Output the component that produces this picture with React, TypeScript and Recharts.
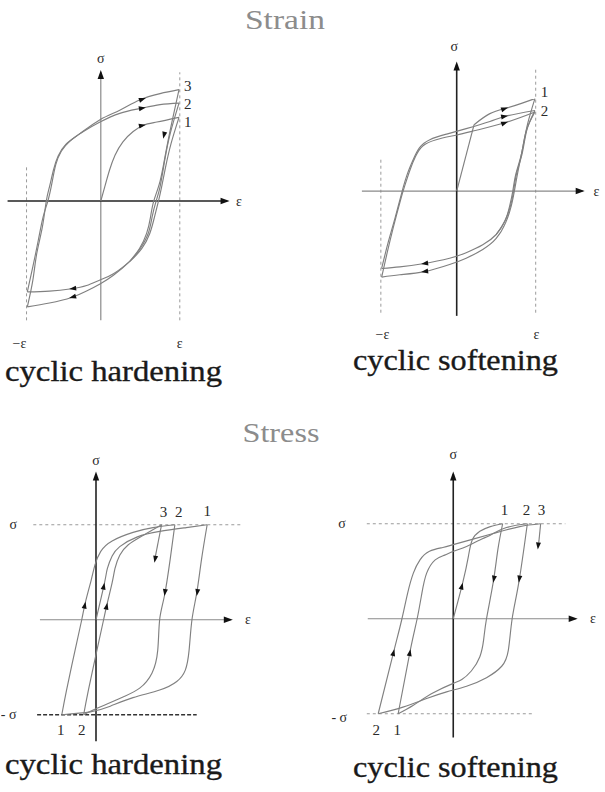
import { ComposedChart, Line, Scatter, XAxis, YAxis } from 'recharts';

type Pt = [number, number];
type Arrow = [number, number, number, number]; // x, y, direction dx, dy
type Tag = [number, number, string];

// ---------- strain controlled, cyclic hardening ----------
const strainHardInitial: Pt[] = [[0, 0], [0.05, 0.18], [0.11, 0.39], [0.18, 0.58], [0.28, 0.75], [0.41, 0.88], [0.54, 0.96], [0.71, 1.0], [0.99, 1.06]];
const strainHardUnload1: Pt[] = [[0.99, 1.06], [0.89, 0.73], [0.82, 0.43], [0.77, 0.18], [0.73, 0], [0.68, -0.2], [0.62, -0.41], [0.52, -0.6], [0.37, -0.76], [0.16, -0.92], [-0.01, -1.0], [-0.18, -1.07], [-0.37, -1.11], [-0.65, -1.14], [-0.93, -1.15]];
const strainHardUnload2: Pt[] = [[0.99, 1.24], [0.88, 0.86], [0.81, 0.52], [0.75, 0.18], [0.7, 0], [0.65, -0.2], [0.6, -0.41], [0.5, -0.6], [0.37, -0.76], [0.16, -0.94], [-0.01, -1.05], [-0.18, -1.14], [-0.37, -1.22], [-0.65, -1.29], [-0.93, -1.34]];
const strainHardUnload3: Pt[] = [[0.99, 1.41], [0.9, 1.0], [0.82, 0.6], [0.75, 0.25], [0.67, 0], [0.63, -0.2], [0.58, -0.41], [0.49, -0.6], [0.37, -0.76]];
const strainHardReload1: Pt[] = [[-0.93, -1.15], [-0.86, -0.83], [-0.79, -0.49], [-0.73, -0.2], [-0.67, 0], [-0.62, 0.22], [-0.57, 0.46], [-0.5, 0.63], [-0.39, 0.76], [-0.22, 0.88], [-0.01, 1.0], [0.24, 1.11], [0.49, 1.17], [0.75, 1.22], [0.99, 1.24]];
const strainHardReload2: Pt[] = [[-0.93, -1.34], [-0.86, -1.0], [-0.81, -0.66], [-0.74, -0.33], [-0.69, 0], [-0.65, 0.18], [-0.6, 0.39], [-0.54, 0.57], [-0.44, 0.72], [-0.27, 0.85], [-0.01, 1.03], [0.24, 1.15], [0.49, 1.28], [0.75, 1.36], [0.99, 1.41]];
const strainHardArrows: Arrow[] = [[0.57, 1.305, 1, 0.35], [0.57, 1.185, 1, 0.2], [0.57, 0.967, 1, 0.22], [0.79, 0.79, -0.23, -1], [-0.4, -1.113, -1, -0.12], [-0.4, -1.228, -1, -0.3]];
const strainHardNumbers: Tag[] = [[1.1, 1.46, '3'], [1.1, 1.23, '2'], [1.1, 1.0, '1']];
const strainHardSymbols: Tag[] = [[0, 1.81, 'σ'], [1.75, 0, 'ε'], [-1.03, -1.8, '−ε'], [1.0, -1.8, 'ε']];

// ---------- strain controlled, cyclic softening ----------
const strainSoftRise: Pt[] = [[0, 0], [0.22, 0.84]];
const strainSoftTop1: Pt[] = [[0.22, 0.84], [0.42, 0.98], [0.63, 1.05], [0.82, 1.11], [0.99, 1.17]];
const strainSoftReloadA: Pt[] = [[-0.95, -0.98], [-0.87, -0.66], [-0.78, -0.34], [-0.69, 0], [-0.62, 0.23], [-0.55, 0.4], [-0.47, 0.55], [-0.34, 0.65], [-0.13, 0.72], [0.12, 0.79], [0.42, 0.88], [0.63, 0.95], [0.99, 1.02]];
const strainSoftReloadB: Pt[] = [[-0.95, -1.09], [-0.88, -0.78], [-0.8, -0.45], [-0.71, -0.11], [-0.66, 0.06], [-0.59, 0.27], [-0.52, 0.44], [-0.43, 0.57], [-0.26, 0.65], [0, 0.71], [0.25, 0.77], [0.63, 0.87], [0.99, 1.0]];
const strainSoftUnload1: Pt[] = [[0.99, 1.17], [0.9, 0.86], [0.84, 0.57], [0.78, 0.27], [0.73, 0], [0.69, -0.19], [0.62, -0.4], [0.5, -0.6], [0.33, -0.74], [0.12, -0.85], [-0.09, -0.93], [-0.41, -1.02], [-0.72, -1.06], [-0.95, -1.09]];
const strainSoftUnload2: Pt[] = [[0.99, 1.02], [0.89, 0.78], [0.83, 0.48], [0.76, 0.23], [0.72, 0], [0.68, -0.19], [0.61, -0.38], [0.5, -0.55], [0.33, -0.68], [0.12, -0.78], [-0.09, -0.85], [-0.43, -0.92], [-0.72, -0.96], [-0.95, -0.98]];
const strainSoftUnload3: Pt[] = [[0.99, 1.0], [0.88, 0.76], [0.82, 0.47], [0.75, 0.22], [0.71, 0], [0.67, -0.19], [0.61, -0.38], [0.5, -0.55]];
const strainSoftArrows: Arrow[] = [[0.65, 1.056, 1, 0.32], [0.65, 0.954, 1, 0.2], [0.65, 0.877, 1, 0.36], [-0.45, -1.025, -1, -0.15], [-0.45, -0.923, -1, -0.15]];
const strainSoftNumbers: Tag[] = [[1.11, 1.25, '1'], [1.11, 1.01, '2']];
const strainSoftSymbols: Tag[] = [[-0.03, 1.83, 'σ'], [1.77, 0, 'ε'], [-0.94, -1.82, '−ε'], [1.01, -1.82, 'ε']];

// ---------- stress controlled, cyclic hardening ----------
const stressHardInitial: Pt[] = [[0, 0], [0.09, 0.39], [0.12, 0.54], [0.17, 0.67], [0.25, 0.77], [0.43, 0.87], [0.67, 0.93], [0.95, 0.97], [1.17, 1.0]];
const stressHardReload1: Pt[] = [[-0.36, -1.0], [-0.31, -0.74], [-0.22, -0.32], [-0.15, 0], [-0.11, 0.19], [-0.05, 0.42], [-0.01, 0.58], [0.05, 0.72], [0.17, 0.83], [0.39, 0.92], [0.6, 0.97], [0.83, 1.0]];
const stressHardReload2: Pt[] = [[-0.13, -1.0], [-0.08, -0.74], [0.01, -0.32], [0.08, 0], [0.12, 0.18], [0.17, 0.39], [0.2, 0.54], [0.25, 0.68], [0.34, 0.79], [0.48, 0.88], [0.69, 1.0]];
const stressHardUnload1: Pt[] = [[1.17, 1.0], [1.11, 0.63], [1.06, 0.28], [1.01, 0], [0.98, -0.32], [0.94, -0.53], [0.85, -0.65], [0.67, -0.74], [0.39, -0.82], [0.15, -0.91], [-0.06, -0.97], [-0.36, -1.0]];
const stressHardUnload2: Pt[] = [[0.83, 1.0], [0.78, 0.63], [0.72, 0.25], [0.67, 0], [0.65, -0.32], [0.59, -0.56], [0.46, -0.72], [0.29, -0.81], [0.11, -0.89], [-0.03, -0.95], [-0.13, -1.0]];
const stressHardUnload3: Pt[] = [[0.69, 1.0], [0.62, 0.64]];
const stressHardArrows: Arrow[] = [[-0.11, 0.19, 0.21, 1], [0.09, 0.39, 0.22, 1], [0.12, 0.18, 0.21, 1], [0.615, 0.6, -0.19, -1], [0.72, 0.25, -0.15, -1], [1.06, 0.25, -0.16, -1]];
const stressHardNumbers: Tag[] = [[0.71, 1.13, '3'], [0.87, 1.13, '2'], [1.17, 1.14, '1'], [-0.37, -1.16, '1'], [-0.15, -1.16, '2']];
const stressHardSymbols: Tag[] = [[0, 1.68, 'σ'], [1.6, 0, 'ε'], [-0.87, 1.0, 'σ'], [-0.92, -1.0, '- σ']];

// ---------- stress controlled, cyclic softening ----------
const stressSoftInitial: Pt[] = [[0, 0], [0.1, 0.38], [0.16, 0.66], [0.2, 0.83], [0.28, 0.92], [0.39, 0.97], [0.52, 1.0]];
const stressSoftUnload1: Pt[] = [[0.52, 1.0], [0.47, 0.73], [0.42, 0.38], [0.35, 0], [0.32, -0.22], [0.28, -0.4], [0.19, -0.55], [0.09, -0.64], [0, -0.68], [-0.21, -0.78], [-0.42, -0.91], [-0.58, -1.0]];
const stressSoftUnload2: Pt[] = [[0.78, 1.0], [0.69, 0.38], [0.62, 0], [0.58, -0.33], [0.51, -0.5], [0.35, -0.62], [0.14, -0.71], [-0.07, -0.77], [-0.28, -0.84], [-0.53, -0.93], [-0.79, -1.0]];
const stressSoftUnload3: Pt[] = [[0.92, 1.0], [0.9, 0.8]];
const stressSoftReload1: Pt[] = [[-0.58, -1.0], [-0.45, -0.32], [-0.38, 0], [-0.33, 0.27], [-0.28, 0.48], [-0.19, 0.62], [-0.09, 0.67], [0, 0.71], [0.14, 0.76], [0.28, 0.83], [0.39, 0.88], [0.56, 0.96], [0.78, 1.0]];
const stressSoftReload2: Pt[] = [[-0.79, -1.0], [-0.62, -0.32], [-0.54, 0], [-0.48, 0.27], [-0.42, 0.48], [-0.35, 0.62], [-0.25, 0.71], [-0.11, 0.75], [0, 0.78], [0.18, 0.83], [0.43, 0.9], [0.7, 0.97], [0.92, 1.0]];
const stressSoftArrows: Arrow[] = [[0.1, 0.38, 0.26, 1], [0.42, 0.38, -0.19, -1], [0.69, 0.38, -0.15, -1], [0.89, 0.73, -0.1, -1], [-0.62, -0.32, 0.25, 1], [-0.45, -0.32, 0.19, 1]];
const stressSoftNumbers: Tag[] = [[0.54, 1.15, '1'], [0.77, 1.15, '2'], [0.93, 1.15, '3'], [-0.81, -1.17, '2'], [-0.59, -1.17, '1']];
const stressSoftSymbols: Tag[] = [[0, 1.73, 'σ'], [1.47, 0, 'ε'], [-1.17, 1.0, 'σ'], [-1.2, -1.04, '- σ']];

const SERIF = '"Liberation Serif", "DejaVu Serif", serif';
const CURVE = '#808080';

const toXY = (pts: Pt[]) => pts.map(([x, y]) => ({ x, y }));
const toArrow = (a: Arrow[]) => a.map(([x, y, dx, dy]) => ({ x, y, dx, dy }));
const toTag = (t: Tag[]) => t.map(([x, y, text]) => ({ x, y, text }));

// filled arrowhead with its tip on the point, pointing along (dx, dy)
const makeHead = (len: number, half: number) => (props: any) => {
  const { cx, cy, payload } = props;
  const a = Math.atan2(-payload.dy, payload.dx);
  const ux = Math.cos(a), uy = Math.sin(a);
  const bx = cx - ux * len, by = cy - uy * len;
  const pts = `${cx},${cy} ${bx - uy * half},${by + ux * half} ${bx + uy * half},${by - ux * half}`;
  return <polygon points={pts} fill="#111" />;
};
const CurveHead = makeHead(7, 2.5);
const AxisHead = makeHead(9, 3.2);

const makeText = (size: number) => (props: any) => (
  <text x={props.cx} y={props.cy} textAnchor="middle" dominantBaseline="central"
    fontFamily={SERIF} fontSize={size} fill="#2a2a2a">{props.payload.text}</text>
);
const NumberText = makeText(15);
const SymbolText = makeText(14);

interface PanelProps {
  origin: Pt;
  scale: number;
  xDomain: Pt;
  yDomain: Pt;
  curves: Pt[][];
  straights?: Pt[][];
  darkAxis: Pt[];
  lightAxis: Pt[];
  axisEnds: Arrow[];
  dashed: Pt[][];
  darkDashed?: Pt[][];
  arrows: Arrow[];
  numbers: Tag[];
  symbols: Tag[];
}

function Panel(p: PanelProps) {
  const width = (p.xDomain[1] - p.xDomain[0]) * p.scale;
  const height = (p.yDomain[1] - p.yDomain[0]) * p.scale;
  const left = p.origin[0] + p.xDomain[0] * p.scale;
  const top = p.origin[1] - p.yDomain[1] * p.scale;
  const seg = (pts: Pt[], key: string, extra: any) => (
    <Line key={key} data={toXY(pts)} dataKey="y" dot={false} activeDot={false}
      isAnimationActive={false} legendType="none" {...extra} />
  );
  return (
    <div style={{ position: 'absolute', left, top }}>
      <ComposedChart width={width} height={height} margin={{ top: 0, right: 0, bottom: 0, left: 0 }}>
        <XAxis type="number" dataKey="x" domain={p.xDomain} hide allowDataOverflow />
        <YAxis type="number" dataKey="y" domain={p.yDomain} hide allowDataOverflow />
        {p.dashed.map((d, i) => seg(d, `d${i}`, { type: 'linear', stroke: '#9a9a9a', strokeWidth: 1, strokeDasharray: '3 3' }))}
        {(p.darkDashed || []).map((d, i) => seg(d, `dd${i}`, { type: 'linear', stroke: '#333', strokeWidth: 1.4, strokeDasharray: '4 2' }))}
        {seg(p.lightAxis, 'la', { type: 'linear', stroke: '#8a8a8a', strokeWidth: 1.2 })}
        {seg(p.darkAxis, 'da', { type: 'linear', stroke: '#222', strokeWidth: 1.6 })}
        {p.curves.map((c, i) => seg(c, `c${i}`, { type: 'natural', stroke: CURVE, strokeWidth: 1.15 }))}
        {(p.straights || []).map((c, i) => seg(c, `s${i}`, { type: 'linear', stroke: CURVE, strokeWidth: 1.15 }))}
        <Scatter data={toArrow(p.axisEnds)} dataKey="y" shape={AxisHead} isAnimationActive={false} />
        <Scatter data={toArrow(p.arrows)} dataKey="y" shape={CurveHead} isAnimationActive={false} />
        <Scatter data={toTag(p.numbers)} dataKey="y" shape={NumberText} isAnimationActive={false} />
        <Scatter data={toTag(p.symbols)} dataKey="y" shape={SymbolText} isAnimationActive={false} />
      </ComposedChart>
    </div>
  );
}

export default function App() {
  const caption = {
    fontFamily: SERIF, fontSize: 30, fill: '#1a1a1a', stroke: '#1a1a1a', strokeWidth: 0.35,
    lengthAdjust: 'spacingAndGlyphs' as const,
  };
  const heading = { fontFamily: SERIF, fontSize: 28, fill: '#8c8c8c', textAnchor: 'middle' as const, lengthAdjust: 'spacingAndGlyphs' as const };
  return (
    <div style={{ position: 'absolute', left: 0, top: 0, width: 605, height: 792, background: '#fff', overflow: 'hidden' }}>
      <svg width={605} height={792} style={{ position: 'absolute', left: 0, top: 0 }}>
        <text x={285} y={29} {...heading} textLength={80}>Strain</text>
        <text x={281} y={442} {...heading} textLength={77}>Stress</text>
        <text x={5} y={381} {...caption} textLength={217}>cyclic hardening</text>
        <text x={353} y={370} {...caption} textLength={205}>cyclic softening</text>
        <text x={5} y={774} {...caption} textLength={217}>cyclic hardening</text>
        <text x={353} y={777} {...caption} textLength={205}>cyclic softening</text>
      </svg>

      <Panel
        origin={[101, 201]} scale={79} xDomain={[-1.2, 1.9]} yDomain={[-1.95, 1.95]}
        curves={[strainHardInitial, strainHardUnload1, strainHardUnload2, strainHardUnload3, strainHardReload1, strainHardReload2]}
        darkAxis={[[-1.18, 0], [1.6, 0]]} lightAxis={[[0, -1.51], [0, 1.63]]}
        axisEnds={[[1.63, 0, 1, 0], [0, 1.66, 0, 1]]}
        dashed={[[[-0.94, -1.51], [-0.94, 0.43]], [[1.0, -1.51], [1.0, 1.63]]]}
        arrows={strainHardArrows} numbers={strainHardNumbers} symbols={strainHardSymbols}
      />
      <Panel
        origin={[457, 191.5]} scale={79} xDomain={[-1.3, 1.85]} yDomain={[-1.95, 1.95]}
        curves={[strainSoftTop1, strainSoftReloadA, strainSoftReloadB, strainSoftUnload1, strainSoftUnload2, strainSoftUnload3]}
        straights={[strainSoftRise]}
        darkAxis={[[0, -1.58], [0, 1.6]]} lightAxis={[[-1.2, 0], [1.6, 0]]}
        axisEnds={[[1.62, 0, 1, 0], [0, 1.64, 0, 1]]}
        dashed={[[[-0.96, -1.54], [-0.96, 0.43]], [[1.0, -1.54], [1.0, 1.57]]]}
        arrows={strainSoftArrows} numbers={strainSoftNumbers} symbols={strainSoftSymbols}
      />
      <Panel
        origin={[96, 620]} scale={95} xDomain={[-1.0, 1.75]} yDomain={[-1.35, 1.85]}
        curves={[stressHardInitial, stressHardReload1, stressHardReload2, stressHardUnload1, stressHardUnload2]}
        straights={[stressHardUnload3]}
        darkAxis={[[0, -1.28], [0, 1.53]]} lightAxis={[[-0.59, 0], [1.42, 0]]}
        axisEnds={[[1.44, 0, 1, 0], [0, 1.56, 0, 1]]}
        dashed={[[[-0.66, 1.0], [1.52, 1.0]]]}
        darkDashed={[[[-0.62, -1.0], [1.06, -1.0]]]}
        arrows={stressHardArrows} numbers={stressHardNumbers} symbols={stressHardSymbols}
      />
      <Panel
        origin={[453.3, 619]} scale={95} xDomain={[-1.35, 1.6]} yDomain={[-1.35, 1.85]}
        curves={[stressSoftInitial, stressSoftUnload1, stressSoftUnload2, stressSoftReload1, stressSoftReload2]}
        straights={[stressSoftUnload3]}
        darkAxis={[[0, -1.25], [0, 1.52]]} lightAxis={[[-0.9, 0], [1.29, 0]]}
        axisEnds={[[1.31, 0, 1, 0], [0, 1.55, 0, 1]]}
        dashed={[[[-0.91, 1.0], [1.18, 1.0]], [[-0.91, -1.0], [0.84, -1.0]]]}
        arrows={stressSoftArrows} numbers={stressSoftNumbers} symbols={stressSoftSymbols}
      />
    </div>
  );
}
